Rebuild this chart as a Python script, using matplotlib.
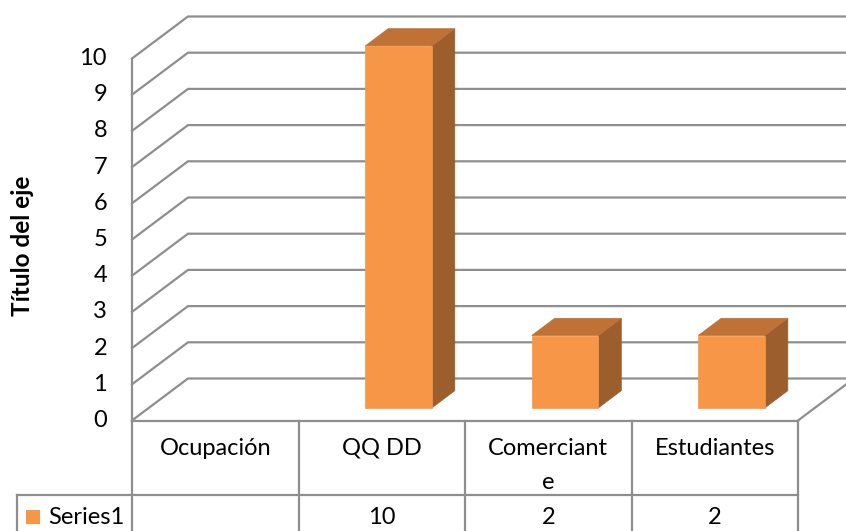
import numpy as np
import matplotlib
matplotlib.use("Agg")
import matplotlib.pyplot as plt
from matplotlib.patches import Polygon, Rectangle

# data
categories = ["Ocupación", "QQ DD", "Comerciante", "Estudiantes"]
cat_labels = ["Ocupación", "QQ DD", "Comerciant\ne", "Estudiantes"]
values = [np.nan, 10, 2, 2]
series_name = "Series1"
y_ticks = list(range(0, 11))
y_title = "Título del eje"

# geometry of the oblique 3-D frame, in axis units (1 category x 1 value)
W, H, DPI = 846, 531, 100
U, V = 166.5, 36.2           # pixels per category / per value unit
X0, Y0 = 132, 420.5          # pixel of the front-left floor corner
DX, DY = 56 / U, 42 / V      # full depth offset of the back wall
BAR_W, BAR_F, BAR_D = 0.40, 0.30, 0.41

FRONT, TOP, SIDE = "#F79646", "#BF7136", "#9C5E2C"
GRID = "#8e8e8e"
FS = 17

plt.rcParams["font.family"] = ["Lato", "DejaVu Sans"]

fig = plt.figure(figsize=(W / DPI, H / DPI), dpi=DPI)
ax = fig.add_axes([0, 0, 1, 1])
ax.set_xlim(-X0 / U, (W - X0) / U)
ax.set_ylim(-(H - Y0) / V, Y0 / V)
ax.axis("off")

n = len(categories)
xmax = (W - X0) / U + 0.1

# side wall diagonals + back wall gridlines
for v in y_ticks:
    ax.plot([0, DX, xmax], [v, v + DY, v + DY], color=GRID, lw=1.6,
            solid_joinstyle="miter", zorder=1)
ax.plot([0, 0], [0, y_ticks[-1]], color=GRID, lw=1.6, zorder=1)
# floor right edge
ax.plot([n, n + DX], [0, DY], color=GRID, lw=1.6, zorder=1)

# 3-D bars
for i, val in enumerate(values):
    if np.isnan(val):
        continue
    x1 = i + 0.5 - BAR_W / 2 + BAR_F * DX
    x2 = x1 + BAR_W
    yb = BAR_F * DY
    yt = yb + val
    ddx, ddy = BAR_D * DX, BAR_D * DY
    ax.add_patch(Polygon([(x2, yb), (x2 + ddx, yb + ddy), (x2 + ddx, yt + ddy), (x2, yt)],
                         closed=True, fc=SIDE, ec=SIDE, lw=0.5, zorder=3))
    ax.add_patch(Polygon([(x1, yt), (x2, yt), (x2 + ddx, yt + ddy), (x1 + ddx, yt + ddy)],
                         closed=True, fc=TOP, ec=TOP, lw=0.5, zorder=3))
    ax.add_patch(Rectangle((x1, yb), BAR_W, val, fc=FRONT, ec=FRONT, lw=0.5, zorder=4))

# value axis labels
for v in y_ticks:
    ax.text(-25 / U, v, str(v), ha="right", va="center", fontsize=FS, color="black")
ax.text(-110 / U, -(246 - Y0) / V, y_title, rotation=90, ha="center", va="center",
        fontsize=17.5, fontweight="bold")

# data table
row1 = -74 / V
ybot = -(H - Y0) / V - 0.1
ax.plot([0, n], [0, 0], color=GRID, lw=1.6, zorder=2)
ax.plot([-115 / U, n], [row1, row1], color=GRID, lw=1.6, zorder=2)
for i in range(n + 1):
    ax.plot([i, i], [0, ybot], color=GRID, lw=1.6, zorder=2)
ax.plot([-115 / U, -115 / U], [row1, ybot], color=GRID, lw=1.6, zorder=2)

for i, lab in enumerate(cat_labels):
    ax.text(i + 0.5, -0.47, lab, ha="center", va="top", fontsize=FS,
            linespacing=1.78)
val_y = -(517 - Y0) / V
for i, val in enumerate(values):
    if not np.isnan(val):
        ax.text(i + 0.5, val_y, f"{val:g}", ha="center", va="center", fontsize=FS)

ax.add_patch(Rectangle((-106 / U, val_y - 7 / V), 14 / U, 14 / V, fc=FRONT, ec="none"))
ax.text(-84 / U, val_y, series_name, ha="left", va="center", fontsize=FS)

fig.savefig("out.png", dpi=DPI)
